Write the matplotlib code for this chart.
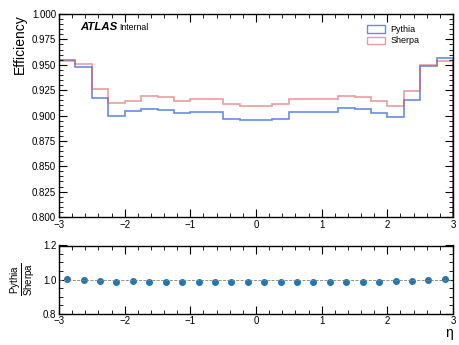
import matplotlib.pyplot as plt
import numpy as np
from matplotlib.patches import Patch
from matplotlib.ticker import MultipleLocator

plt.rcParams["font.family"] = ["Liberation Sans", "DejaVu Sans"]
plt.rcParams["mathtext.fontset"] = "custom"
plt.rcParams["mathtext.rm"] = "Liberation Sans"

# eta bin edges, 24 bins of 0.25
edges = np.arange(-3.0, 3.0001, 0.25)

pythia = [0.955, 0.948, 0.917, 0.8995, 0.9044, 0.9067, 0.905, 0.9022,
          0.9035, 0.9035, 0.897, 0.8953, 0.8953, 0.897, 0.9035, 0.9035,
          0.903, 0.907, 0.906, 0.9028, 0.8988, 0.9155, 0.9485, 0.9562]
sherpa = [0.954, 0.9505, 0.926, 0.912, 0.9146, 0.9192, 0.918, 0.9146,
          0.9163, 0.9163, 0.9113, 0.909, 0.909, 0.9112, 0.916, 0.916,
          0.916, 0.9195, 0.918, 0.9146, 0.9094, 0.9245, 0.9497, 0.9537]

pythia = np.array(pythia)
sherpa = np.array(sherpa)
ratio = pythia / sherpa
centers = 0.5 * (edges[:-1] + edges[1:])

blue = "#3d6ee8"
red = "#e05a5a"

fig = plt.figure(figsize=(4.6, 3.45), dpi=100)
ax = fig.add_axes([59 / 460, 1 - 217 / 345, 394 / 460, 203 / 345])
rax = fig.add_axes([59 / 460, 1 - 313.5 / 345, 394 / 460, 68 / 345])

ax.stairs(pythia, edges, color=blue, alpha=0.8, lw=1.2)
ax.stairs(sherpa, edges, color=red, alpha=0.6, lw=1.2)

ax.set_xlim(-3, 3)
ax.set_ylim(0.8, 1.0)
ax.yaxis.set_major_locator(MultipleLocator(0.025))
ax.yaxis.set_minor_locator(MultipleLocator(0.005))
ax.xaxis.set_major_locator(MultipleLocator(1))
ax.xaxis.set_minor_locator(MultipleLocator(0.2))
ax.yaxis.set_major_formatter(lambda v, p: f"{v:.3f}")
ax.set_ylabel("Efficiency", fontsize=10, loc="top")

ax.text(0.053, 0.935, "ATLAS", transform=ax.transAxes, fontsize=8.2,
        fontweight="bold", style="italic", va="center")
ax.text(0.152, 0.933, "Internal", transform=ax.transAxes, fontsize=6.3,
        va="center")

handles = [Patch(facecolor="none", edgecolor=blue, alpha=0.8, label="Pythia"),
           Patch(facecolor="none", edgecolor=red, alpha=0.6, label="Sherpa")]
ax.legend(handles=handles, loc="upper right", bbox_to_anchor=(0.915, 0.945),
          frameon=False, fontsize=6.5, handlelength=2.0, handleheight=0.9,
          labelspacing=0.25, handletextpad=0.6, borderpad=0, borderaxespad=0)

rax.plot(centers, ratio, "o", color="#1f77b4", ms=4)
rax.axhline(1.0, color="grey", ls="--", lw=0.6)
rax.set_xlim(-3, 3)
rax.set_ylim(0.8, 1.2)
rax.yaxis.set_major_locator(MultipleLocator(0.2))
rax.yaxis.set_minor_locator(MultipleLocator(0.05))
rax.xaxis.set_major_locator(MultipleLocator(1))
rax.xaxis.set_minor_locator(MultipleLocator(0.2))
rax.set_ylabel(r"$\frac{\mathrm{Pythia}}{\mathrm{Sherpa}}$", fontsize=10)
fig.text(453 / 460, 1 - 333 / 345, "η", fontsize=10, ha="right", va="center")

for a in (ax, rax):
    a.tick_params(which="both", direction="in", top=True, right=True,
                  labelsize=7, pad=2)
    a.tick_params(which="major", length=6)
    a.tick_params(which="minor", length=3)
    for s in a.spines.values():
        s.set_linewidth(1.0)

fig.savefig("out.png", dpi=100)
